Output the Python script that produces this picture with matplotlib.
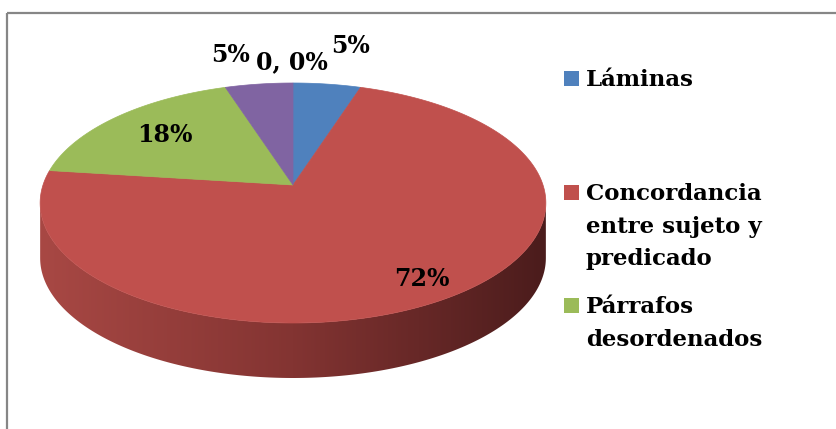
import textwrap
import numpy as np
import matplotlib
matplotlib.use("Agg")
import matplotlib.pyplot as plt
from matplotlib.patches import Polygon, Rectangle
from matplotlib.colors import LinearSegmentedColormap

# data
categories = ['Láminas', 'Concordancia entre sujeto y predicado',
              'Párrafos desordenados', 'Otros', 'Sin respuesta']
values = [5, 72, 18, 5, 0]
labels = ['5%', '72%', '18%', '5%', '0, 0%']
colors = ['#4F81BD', '#C0504D', '#9BBB59', '#8064A2', '#F79646']
legend_count = 3  # only three entries are visible in the legend

# pie geometry (pixels), simple perspective of a tilted disc
CX, CY = 293, 185
A, B, K = 250, 117.3, 0.15
DEPTH = 55

# label placement: radius factor and angle nudge (degrees)
label_r = [1.47, 0.85, 0.71, 1.36, 1.24]
label_dt = [2.0, -0.5, 0.2, -3.8, -0.3]


def project(theta, r=1.0, depth=0.0):
    # theta in degrees, 0 at the back (top), clockwise seen from above
    t = np.radians(theta)
    u = r * np.sin(t)
    v = -r * np.cos(t)
    w = 1 - K * v
    return CX + A * u / w, CY + B * v / w + depth


fig = plt.figure(figsize=(8.36, 4.29), dpi=100)
ax = fig.add_axes([0, 0, 1, 1])

# side wall of the pie (front half, all of it red here)
t_side = np.degrees(np.arccos(-K))
th = np.linspace(t_side, 360 - t_side, 200)
tx, ty = project(th)
bx, by = project(th[::-1], depth=DEPTH)
side = Polygon(np.column_stack([np.r_[tx, bx], np.r_[ty, by]]),
               closed=True, facecolor='none', edgecolor='none')
ax.add_patch(side)
cmap = LinearSegmentedColormap.from_list('side', ['#A84844', '#833432', '#4B1C1C'])
grad = np.linspace(0, 1, 256).reshape(1, -1)
img = ax.imshow(grad, cmap=cmap, aspect='auto',
                extent=[tx.min(), tx.max(), by.max() + 2, ty.min()])
img.set_clip_path(side)

# top face wedges
total = sum(values)
start = 0.0
mids = []
for val, col in zip(values, colors):
    span = 360.0 * val / total
    mids.append(start + span / 2)
    if val > 0:
        th = np.linspace(start, start + span, max(int(span * 2), 2))
        px, py = project(th)
        pts = np.column_stack([np.r_[CX, px], np.r_[CY, py]])
        ax.add_patch(Polygon(pts, closed=True, facecolor=col, edgecolor=col, lw=0.5))
    start += span

# data labels
font = dict(family='DejaVu Serif', weight='bold', size=16.5)
for i, lab in enumerate(labels):
    lx, ly = project(mids[i] + label_dt[i], r=label_r[i])
    ax.text(lx, ly, lab, ha='center', va='center', fontsize=17,
            family='DejaVu Serif', weight='bold')

# legend drawn by hand, Excel style
legend_y = [86, 200, 313]
for i in range(legend_count):
    lines = textwrap.wrap(categories[i], 14)
    y0 = legend_y[i]
    ax.add_patch(Rectangle((564, y0 - 15), 15, 15, facecolor=colors[i], edgecolor='none'))
    for j, line in enumerate(lines):
        ax.text(586, y0 + j * 32.5, line, ha='left', va='baseline', **font)

# chart frame (only top and left show in the crop)
ax.plot([7, 836], [13, 13], color='#868686', lw=1.6, solid_capstyle='butt')
ax.plot([7, 7], [13, 429], color='#868686', lw=1.6, solid_capstyle='butt')

ax.set_xlim(0, 836)
ax.set_ylim(429, 0)
ax.axis('off')
fig.savefig('out.png', dpi=100)
